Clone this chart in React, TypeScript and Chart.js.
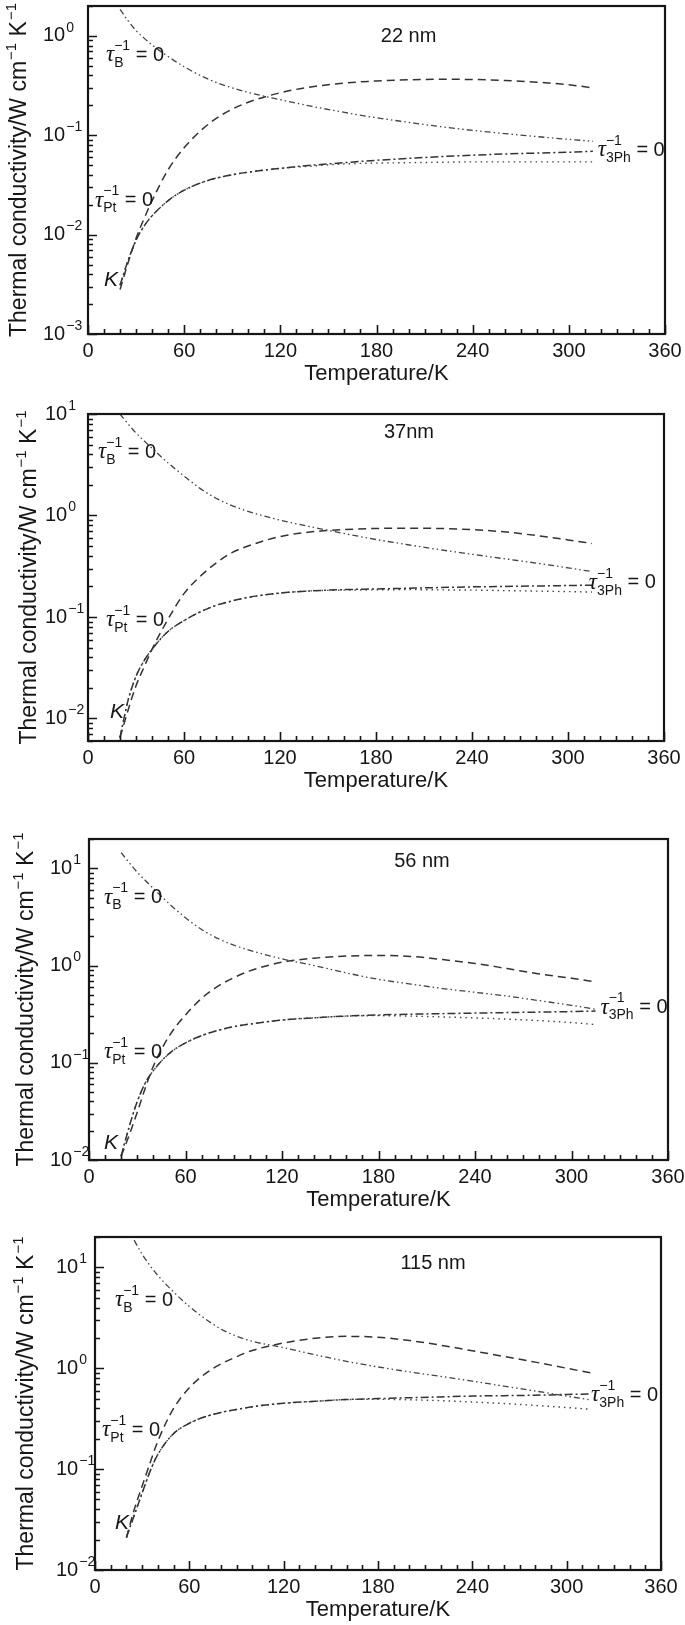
import React, { useEffect, useRef } from 'react';
import { Chart, registerables } from 'chart.js';

Chart.register(...registerables);

// ---------- data ----------
const temperatures = [20, 25, 30, 35, 40, 50, 60, 70, 80, 90, 100, 120, 140, 160, 180, 200, 220, 240, 260, 280, 300, 315];
const xTickLabels = ['0', '60', '120', '180', '240', '300', '360'];

// 22 nm
const tauB_22 = [1.85, 1.42, 1.13, 0.95, 0.81, 0.62, 0.49, 0.4, 0.34, 0.3, 0.27, 0.228, 0.195, 0.17, 0.15, 0.135, 0.122, 0.112, 0.104, 0.097, 0.091, 0.087];
const tauPt_22 = [0.0028, 0.0052, 0.0092, 0.0145, 0.022, 0.045, 0.075, 0.11, 0.148, 0.183, 0.215, 0.268, 0.308, 0.335, 0.352, 0.362, 0.366, 0.364, 0.356, 0.342, 0.322, 0.3];
const total_22 = [0.0031, 0.0055, 0.0088, 0.0122, 0.0155, 0.022, 0.028, 0.033, 0.037, 0.04, 0.0425, 0.0465, 0.05, 0.053, 0.056, 0.0585, 0.061, 0.063, 0.0648, 0.0662, 0.0675, 0.069];
const tau3Ph_22 = [0.0031, 0.0055, 0.0088, 0.0122, 0.0155, 0.022, 0.028, 0.033, 0.037, 0.04, 0.0425, 0.0465, 0.049, 0.0515, 0.0525, 0.053, 0.0535, 0.054, 0.054, 0.054, 0.054, 0.054];

// 37 nm
const tauB_37 = [10, 8.0, 6.5, 5.45, 4.6, 3.3, 2.45, 1.85, 1.48, 1.25, 1.1, 0.9, 0.77, 0.665, 0.58, 0.515, 0.46, 0.415, 0.375, 0.34, 0.305, 0.28];
const tauPt_37 = [0.0065, 0.012, 0.021, 0.032, 0.048, 0.095, 0.17, 0.25, 0.34, 0.43, 0.5, 0.62, 0.69, 0.725, 0.745, 0.75, 0.745, 0.725, 0.69, 0.635, 0.575, 0.53];
const total_37 = [0.0065, 0.015, 0.026, 0.037, 0.048, 0.072, 0.092, 0.112, 0.13, 0.144, 0.156, 0.172, 0.181, 0.186, 0.189, 0.192, 0.195, 0.198, 0.2, 0.202, 0.204, 0.206];
const tau3Ph_37 = [0.0065, 0.015, 0.026, 0.037, 0.048, 0.072, 0.092, 0.112, 0.13, 0.144, 0.156, 0.172, 0.181, 0.184, 0.185, 0.186, 0.185, 0.184, 0.182, 0.18, 0.178, 0.176];

// 56 nm
const tauB_56 = [14.5, 11.4, 9.1, 7.5, 6.2, 4.3, 3.1, 2.35, 1.9, 1.62, 1.43, 1.17, 1.0, 0.84, 0.72, 0.645, 0.58, 0.53, 0.485, 0.435, 0.39, 0.355];
const tauPt_56 = [0.011, 0.018, 0.031, 0.055, 0.092, 0.19, 0.31, 0.46, 0.61, 0.75, 0.88, 1.08, 1.19, 1.25, 1.27, 1.24, 1.15, 1.05, 0.93, 0.82, 0.74, 0.68];
const total_56 = [0.011, 0.022, 0.04, 0.062, 0.083, 0.125, 0.16, 0.19, 0.215, 0.235, 0.25, 0.275, 0.29, 0.302, 0.31, 0.316, 0.32, 0.324, 0.328, 0.332, 0.336, 0.34];
const tau3Ph_56 = [0.011, 0.022, 0.04, 0.062, 0.083, 0.125, 0.16, 0.19, 0.215, 0.235, 0.25, 0.275, 0.29, 0.302, 0.305, 0.302, 0.296, 0.289, 0.281, 0.271, 0.259, 0.247];

// 115 nm
const tauB_115 = [27, 18.5, 13.5, 10.4, 8.3, 5.7, 4.1, 3.1, 2.45, 2.08, 1.85, 1.6, 1.36, 1.17, 1.03, 0.92, 0.83, 0.745, 0.665, 0.595, 0.53, 0.485];
const tauPt_115 = [0.021, 0.04, 0.068, 0.115, 0.19, 0.4, 0.64, 0.88, 1.1, 1.3, 1.5, 1.78, 1.98, 2.07, 2.03, 1.88, 1.69, 1.49, 1.31, 1.15, 1.0, 0.9];
const total_115 = [0.021, 0.035, 0.058, 0.095, 0.14, 0.225, 0.285, 0.33, 0.365, 0.39, 0.415, 0.45, 0.47, 0.49, 0.5, 0.51, 0.52, 0.53, 0.535, 0.54, 0.55, 0.555];
const tau3Ph_115 = [0.021, 0.035, 0.058, 0.095, 0.14, 0.225, 0.285, 0.33, 0.365, 0.39, 0.415, 0.45, 0.47, 0.49, 0.492, 0.487, 0.477, 0.463, 0.447, 0.428, 0.408, 0.392];

// ---------- styling / layout ----------
const SANS = '"Liberation Sans", Arial, Helvetica, sans-serif';
const SERIF = '"Liberation Serif", "Times New Roman", serif';
const INK = '#161616';
const PAD_TOP = 14;
const X_AXIS_H = 53;
const W = 685;

const seriesStyles = [
  { name: 'τB⁻¹ = 0', dash: [6, 3, 1.5, 3, 1.5, 3], color: '#444', width: 1.3 },
  { name: 'τPt⁻¹ = 0', dash: [8, 5], color: '#333', width: 1.5 },
  { name: 'K', dash: [8, 3, 2, 3], color: '#333', width: 1.5 },
  { name: 'τ3Ph⁻¹ = 0', dash: [1.5, 4], color: '#444', width: 1.4 },
];

type Lbl = { kind: 'tau' | 'K' | 'text'; sub?: string; text?: string; T: number; v: number };

const panels = [
  {
    left: 88, right: 665, top: 6, bottom: 334, yMin: 1e-3, yMax: 2, titleX: 20, tickX: 43,
    series: [tauB_22, tauPt_22, total_22, tau3Ph_22],
    labels: [
      { kind: 'text', text: '22 nm', T: 200, v: 0.98 },
      { kind: 'tau', sub: 'B', T: 11.2, v: 0.64 },
      { kind: 'tau', sub: 'Pt', T: 4.4, v: 0.022 },
      { kind: 'K', T: 10, v: 0.0035 },
      { kind: 'tau', sub: '3Ph', T: 318, v: 0.071 },
    ] as Lbl[],
  },
  {
    left: 88, right: 664, top: 414, bottom: 741, yMin: 0.006, yMax: 10, titleX: 30, tickX: 45,
    series: [tauB_37, tauPt_37, total_37, tau3Ph_37],
    labels: [
      { kind: 'text', text: '37nm', T: 200.6, v: 6.6 },
      { kind: 'tau', sub: 'B', T: 6.25, v: 4.2 },
      { kind: 'tau', sub: 'Pt', T: 11.25, v: 0.093 },
      { kind: 'K', T: 13.75, v: 0.0115 },
      { kind: 'tau', sub: '3Ph', T: 313, v: 0.217 },
    ] as Lbl[],
  },
  {
    left: 89, right: 668, top: 839, bottom: 1160, yMin: 0.01, yMax: 20, titleX: 27, tickX: 50,
    series: [tauB_56, tauPt_56, total_56, tau3Ph_56],
    labels: [
      { kind: 'text', text: '56 nm', T: 207, v: 11.7 },
      { kind: 'tau', sub: 'B', T: 9.3, v: 5.0 },
      { kind: 'tau', sub: 'Pt', T: 9.3, v: 0.128 },
      { kind: 'K', T: 9.3, v: 0.0148 },
      { kind: 'tau', sub: '3Ph', T: 318, v: 0.37 },
    ] as Lbl[],
  },
  {
    left: 95, right: 661, top: 1237, bottom: 1570, yMin: 0.01, yMax: 20, titleX: 27, tickX: 56,
    series: [tauB_115, tauPt_115, total_115, tau3Ph_115],
    labels: [
      { kind: 'text', text: '115 nm', T: 215, v: 10.9 },
      { kind: 'tau', sub: 'B', T: 12.7, v: 4.7 },
      { kind: 'tau', sub: 'Pt', T: 4.5, v: 0.243 },
      { kind: 'K', T: 12.7, v: 0.029 },
      { kind: 'tau', sub: '3Ph', T: 315.5, v: 0.54 },
    ] as Lbl[],
  },
];

function logTicks(min: number, max: number) {
  const out: number[] = [];
  for (let e = Math.floor(Math.log10(min)) - 1; e <= Math.ceil(Math.log10(max)); e++) {
    for (let m = 1; m <= 9; m++) {
      const v = Number((m * Math.pow(10, e)).toPrecision(6));
      if (v >= min * 0.9999 && v <= max * 1.0001) out.push(v);
    }
  }
  return out;
}

function supLabel(e: number) {
  return e < 0 ? '−' + Math.abs(e) : String(e);
}

function drawTau(ctx: CanvasRenderingContext2D, x: number, y: number, sub: string) {
  ctx.textAlign = 'left';
  ctx.textBaseline = 'middle';
  ctx.font = `italic 23px ${SERIF}`;
  ctx.fillText('τ', x, y);
  const w = ctx.measureText('τ').width;
  ctx.font = `14px ${SANS}`;
  ctx.fillText('−1', x + w, y - 9);
  const w1 = ctx.measureText('−1').width;
  ctx.fillText(sub, x + w, y + 8);
  const w2 = ctx.measureText(sub).width;
  ctx.font = `20px ${SANS}`;
  ctx.fillText(' = 0', x + w + Math.max(w1, w2), y);
}

function makeDecor(p: typeof panels[number]) {
  return {
    id: 'decor',
    afterDatasetsDraw(chart: any) {
      const { ctx, chartArea: a, scales } = chart;
      const xs = scales.x;
      const ys = scales.y;
      ctx.save();
      ctx.strokeStyle = INK;
      ctx.fillStyle = INK;
      // inward ticks
      ctx.lineWidth = 1.6;
      ctx.beginPath();
      xs.ticks.forEach((t: any) => {
        const px = Math.round(xs.getPixelForValue(t.value)) + 0.5;
        const len = t.value % 60 === 0 ? 9 : 5;
        ctx.moveTo(px, a.bottom);
        ctx.lineTo(px, a.bottom - len);
      });
      ys.ticks.forEach((t: any) => {
        const py = Math.round(ys.getPixelForValue(t.value)) + 0.5;
        const lg = Math.log10(t.value);
        const major = Math.abs(lg - Math.round(lg)) < 1e-6;
        const len = major ? 9 : 5;
        ctx.moveTo(a.left, py);
        ctx.lineTo(a.left + len, py);
      });
      ctx.stroke();
      // frame
      ctx.lineWidth = 2.2;
      ctx.strokeRect(a.left, a.top, a.right - a.left, a.bottom - a.top);
      // y tick labels with superscripts
      ys.ticks.forEach((t: any) => {
        const lg = Math.log10(t.value);
        if (Math.abs(lg - Math.round(lg)) > 1e-6) return;
        const e = Math.round(lg);
        const py = ys.getPixelForValue(t.value);
        ctx.textAlign = 'left';
        ctx.textBaseline = 'middle';
        ctx.font = `20px ${SANS}`;
        ctx.fillText('10', p.tickX, py);
        const w = ctx.measureText('10').width;
        ctx.font = `14px ${SANS}`;
        ctx.fillText(supLabel(e), p.tickX + w + 1, py - 8);
      });
      // y axis title (rotated, with superscripts)
      const parts = [
        { t: 'Thermal conductivity/W cm', sup: false },
        { t: '−1', sup: true },
        { t: ' K', sup: false },
        { t: '−1', sup: true },
      ];
      const mainF = `23px ${SANS}`;
      const supF = `15px ${SANS}`;
      let total = 0;
      parts.forEach((pt) => {
        ctx.font = pt.sup ? supF : mainF;
        total += ctx.measureText(pt.t).width + (pt.sup ? 1 : 0);
      });
      ctx.save();
      ctx.translate(p.titleX, (a.top + a.bottom) / 2);
      ctx.rotate(-Math.PI / 2);
      let cx = -total / 2;
      parts.forEach((pt) => {
        ctx.font = pt.sup ? supF : mainF;
        ctx.textAlign = 'left';
        ctx.textBaseline = 'middle';
        if (pt.sup) cx += 1;
        ctx.fillText(pt.t, cx, pt.sup ? -8 : 0);
        cx += ctx.measureText(pt.t).width;
      });
      ctx.restore();
      // curve labels
      p.labels.forEach((l) => {
        const x = xs.getPixelForValue(l.T);
        const y = ys.getPixelForValue(l.v);
        if (l.kind === 'tau') {
          drawTau(ctx, x, y, l.sub || '');
        } else if (l.kind === 'K') {
          ctx.textAlign = 'left';
          ctx.textBaseline = 'middle';
          ctx.font = `italic 21px ${SANS}`;
          ctx.fillText('K', x, y);
        } else {
          ctx.textAlign = 'center';
          ctx.textBaseline = 'middle';
          ctx.font = `20px ${SANS}`;
          ctx.fillText(l.text || '', x, y);
        }
      });
      ctx.restore();
    },
  };
}

function Panel({ p }: { p: typeof panels[number] }) {
  const ref = useRef<HTMLCanvasElement>(null);
  const height = PAD_TOP + (p.bottom - p.top) + X_AXIS_H;
  useEffect(() => {
    const yTickVals = logTicks(p.yMin, p.yMax);
    const chart = new Chart(ref.current as HTMLCanvasElement, {
      type: 'line',
      data: {
        datasets: p.series.map((vals, i) => ({
          label: seriesStyles[i].name,
          data: temperatures.map((T, j) => ({ x: T, y: vals[j] })),
          borderColor: seriesStyles[i].color,
          borderWidth: seriesStyles[i].width,
          borderDash: seriesStyles[i].dash,
          pointRadius: 0,
          fill: false,
          cubicInterpolationMode: 'monotone' as const,
        })),
      },
      options: {
        responsive: false,
        animation: false,
        devicePixelRatio: 1,
        layout: { padding: { top: PAD_TOP, left: 0, right: W - p.right, bottom: 0 } },
        plugins: { legend: { display: false }, tooltip: { enabled: false } },
        scales: {
          x: {
            type: 'linear',
            min: 0,
            max: 360,
            border: { display: false },
            grid: { display: false, drawTicks: false },
            ticks: {
              stepSize: 10,
              autoSkip: false,
              maxRotation: 0,
              padding: 5,
              color: INK,
              font: { family: SANS, size: 20 },
              callback: (v: any) => (Number(v) % 60 === 0 ? xTickLabels[Number(v) / 60] : ''),
            },
            title: {
              display: true,
              text: 'Temperature/K',
              color: INK,
              font: { family: SANS, size: 22 },
              padding: { top: 0, bottom: 0 },
            },
            afterFit: (s: any) => {
              s.height = X_AXIS_H;
              s.paddingLeft = 0;
              s.paddingRight = 0;
            },
          },
          y: {
            type: 'logarithmic',
            min: p.yMin,
            max: p.yMax,
            border: { display: false },
            grid: { display: false, drawTicks: false },
            ticks: { display: false },
            afterBuildTicks: (s: any) => {
              s.ticks = yTickVals.map((v) => ({ value: v }));
            },
            afterFit: (s: any) => {
              s.width = p.left;
              s.paddingTop = 0;
              s.paddingBottom = 0;
            },
          },
        },
      },
      plugins: [makeDecor(p)],
    } as any);
    return () => chart.destroy();
  }, []);
  return (
    <canvas
      ref={ref}
      width={W}
      height={height}
      style={{ position: 'absolute', left: 0, top: p.top - PAD_TOP, width: W, height }}
    />
  );
}

export default function App() {
  return (
    <div style={{ position: 'absolute', left: 0, top: 0, width: W, height: 1625, background: '#fff' }}>
      {panels.map((p, i) => (
        <Panel key={i} p={p} />
      ))}
    </div>
  );
}
